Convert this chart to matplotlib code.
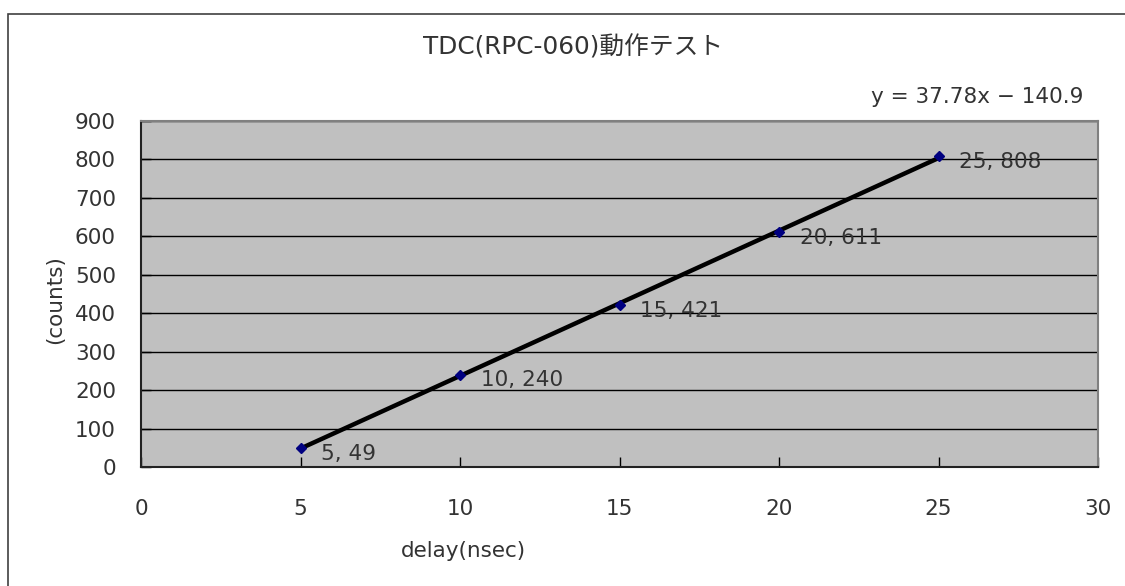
import matplotlib
matplotlib.use("Agg")
import matplotlib.pyplot as plt
import numpy as np
from matplotlib.patches import Rectangle

plt.rcParams['font.family'] = ['DejaVu Sans', 'Noto Sans CJK JP']

delay = [5, 10, 15, 20, 25]
counts = [49, 240, 421, 611, 808]
x_ticks = [0, 5, 10, 15, 20, 25, 30]
y_ticks = [0, 100, 200, 300, 400, 500, 600, 700, 800, 900]
title = "TDC(RPC-060)動作テスト"
xlabel = "delay(nsec)"
ylabel = "(counts)"

W, H = 1125, 586
fig = plt.figure(figsize=(W / 100, H / 100), dpi=100)
fig.patch.set_facecolor('white')

# outer chart border
fig.patches.append(Rectangle((8 / W, -0.1), 1.2, 1 - 14 / H + 0.1, transform=fig.transFigure,
                             fill=False, edgecolor='#404040', lw=1.2))

txt = '#333333'
fs = 15.5

left, right, bottom, top = 141 / W, 1098 / W, 1 - 467 / H, 1 - 121 / H
ax = fig.add_axes([left, bottom, right - left, top - bottom])
ax.set_facecolor('#C0C0C0')
ax.set_xlim(0, 30)
ax.set_ylim(0, 900)
ax.set_xticks(x_ticks)
ax.set_yticks(y_ticks)
ax.tick_params(direction='in', length=7, width=1, colors='black', labelsize=fs, labelcolor=txt)
ax.tick_params(axis='x', pad=23)
ax.tick_params(axis='y', pad=18)
ax.grid(axis='y', color='black', lw=1)
ax.set_axisbelow(True)
for s in ['top', 'right']:
    ax.spines[s].set_color('#808080')
    ax.spines[s].set_linewidth(1.5)
for s in ['left', 'bottom']:
    ax.spines[s].set_color('#222222')
    ax.spines[s].set_linewidth(1.5)

# trendline
slope, intercept = np.polyfit(delay, counts, 1)
xs = np.array([min(delay), max(delay)])
ax.plot(xs, slope * xs + intercept, color='black', lw=3.2, solid_capstyle='butt', zorder=3)

ax.plot(delay, counts, linestyle='none', marker='D', markersize=5, color='#000080', zorder=4)

for x, y in zip(delay, counts):
    ax.annotate(f"{x}, {y}", (x, y), xytext=(15, -4), textcoords='offset points',
                ha='left', va='center', fontsize=fs, color=txt, zorder=5)

fig.text(1083 / W, 1 - 97 / H, f"y = {slope:.2f}x \u2212 {abs(intercept):.1f}", ha='right', va='center',
         fontsize=fs, color=txt)
fig.text(573 / W, 1 - 47 / H, title, ha='center', va='center', fontsize=17.8, color=txt)
fig.text(463 / W, 1 - 551 / H, xlabel, ha='center', va='center', fontsize=fs, color=txt)
fig.text(55 / W, 1 - 300 / H, ylabel, ha='center', va='center', fontsize=fs, color=txt, rotation=90)

fig.savefig('out.png', dpi=100)
